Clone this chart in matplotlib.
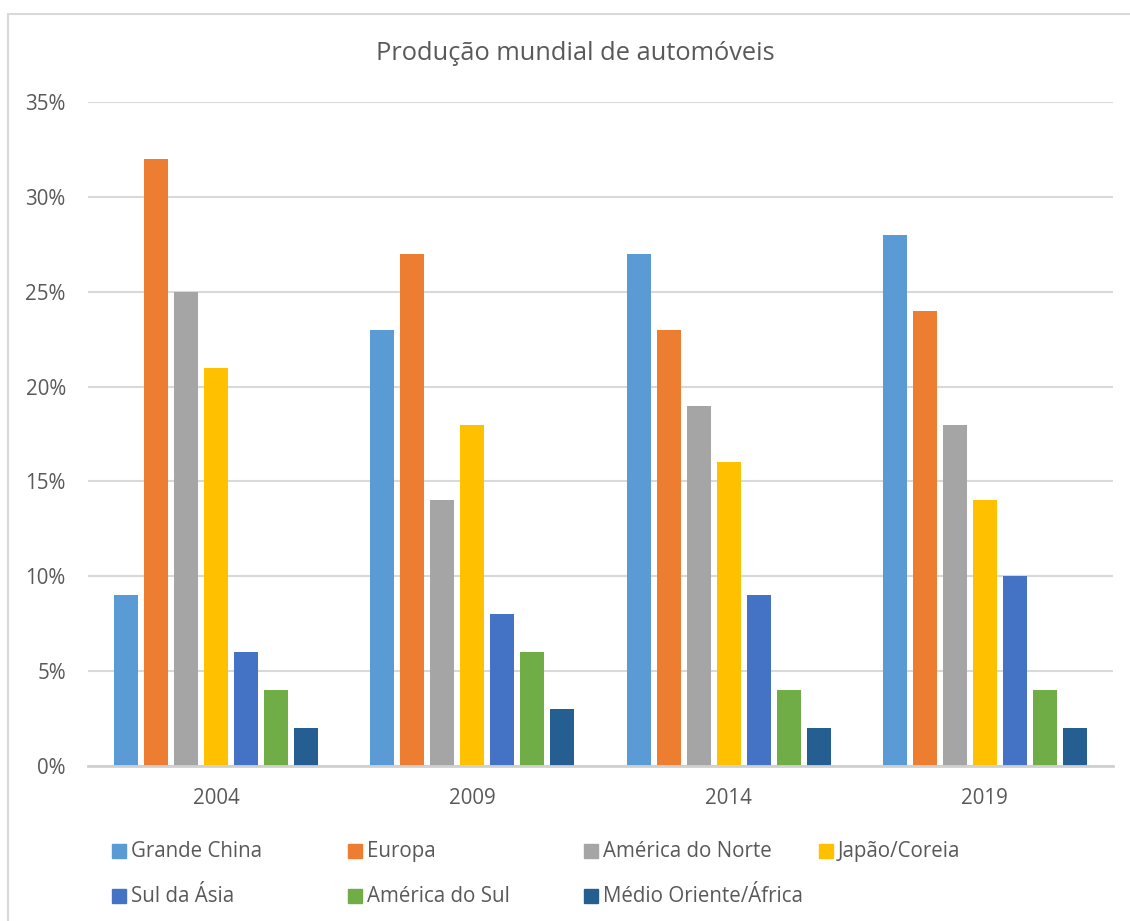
import matplotlib.pyplot as plt
import matplotlib.patches as mpatches
import numpy as np
from matplotlib.ticker import PercentFormatter

plt.rcParams['font.family'] = ['Open Sans', 'DejaVu Sans']

years = ['2004', '2009', '2014', '2019']
regions = ['Grande China', 'Europa', 'América do Norte', 'Japão/Coreia',
           'Sul da Ásia', 'América do Sul', 'Médio Oriente/África']
colors = ['#5B9BD5', '#ED7D31', '#A5A5A5', '#FFC000', '#4472C4', '#70AD47', '#255E91']

grande_china = [9, 23, 27, 28]
europa = [32, 27, 23, 24]
america_norte = [25, 14, 19, 18]
japao_coreia = [21, 18, 16, 14]
sul_asia = [6, 8, 9, 10]
america_sul = [4, 6, 4, 4]
medio_oriente = [2, 3, 2, 2]
series = [grande_china, europa, america_norte, japao_coreia,
          sul_asia, america_sul, medio_oriente]

txt = '#595959'
W, H = 1130, 921
fig = plt.figure(figsize=(W / 100, H / 100), dpi=100)
ax = fig.add_axes([88 / W, 1 - 766 / H, (1113 - 88) / W, (766 - 102) / H])

x = np.arange(len(years))
step = 30 / 256.25
width = 24 / 256.25
for i, (vals, c) in enumerate(zip(series, colors)):
    ax.bar(x + (i - 3) * step, vals, width, color=c, zorder=3)

ax.set_xlim(-0.5, 3.5)
ax.set_ylim(0, 35)
ax.set_yticks(np.arange(0, 36, 5))
ax.yaxis.set_major_formatter(PercentFormatter(decimals=0))
ax.set_xticks(x)
ax.set_xticklabels(years)
ax.grid(axis='y', color='#D9D9D9', linewidth=1.5, zorder=0)
for s in ['top', 'right', 'left']:
    ax.spines[s].set_visible(False)
ax.spines['bottom'].set_color('#D0D0D0')
ax.spines['bottom'].set_linewidth(2)
ax.spines['bottom'].set_zorder(4)
ax.tick_params(length=0, labelsize=14.8, labelcolor=txt)
ax.tick_params(axis='y', pad=16)
ax.tick_params(axis='x', pad=16)

fig.text(575 / W, 1 - 54 / H, 'Produção mundial de automóveis',
         ha='center', va='center', fontsize=18.3, color=txt)

# legend, laid out like the spreadsheet one
leg_x = [112, 348, 584, 819]
leg_y = [851, 896]
for i, (name, c) in enumerate(zip(regions, colors)):
    lx = leg_x[i % 4]
    ly = leg_y[i // 4]
    fig.patches.append(mpatches.Rectangle((lx / W, 1 - (ly + 7) / H), 14 / W, 14 / H,
                                          transform=fig.transFigure, color=c))
    fig.text((lx + 19) / W, 1 - ly / H, name, ha='left', va='center',
             fontsize=14.8, color=txt)

# chart border
fig.patches.append(mpatches.Rectangle((8 / W, -0.1), 1.2, 1.1 - 14 / H,
                                      transform=fig.transFigure, fill=False,
                                      edgecolor='#D9D9D9', linewidth=1.5))

fig.savefig('out.png', dpi=100)
